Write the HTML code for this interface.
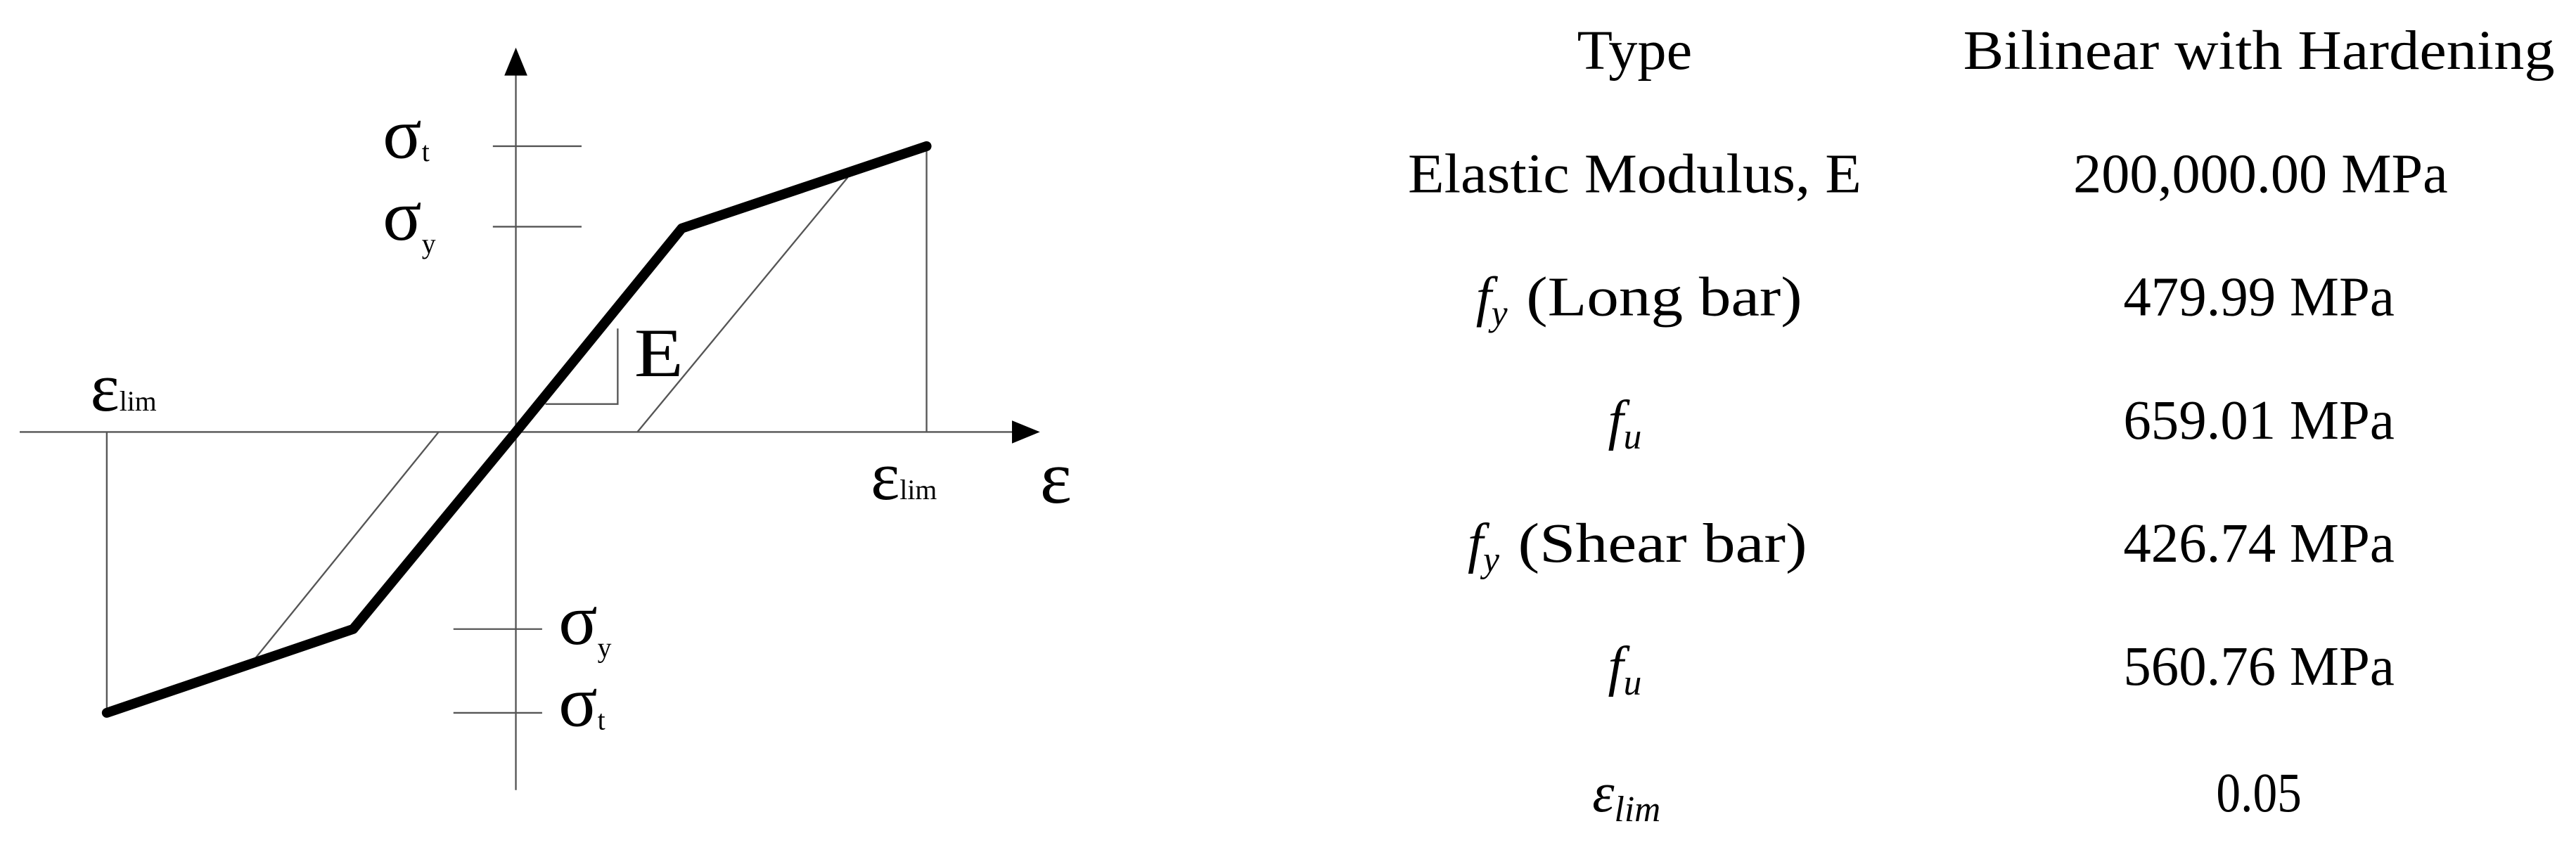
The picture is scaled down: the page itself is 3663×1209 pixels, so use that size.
<!DOCTYPE html>
<html><head><meta charset="utf-8"><style>html,body{margin:0;padding:0;background:#fff}svg{display:block}</style></head>
<body>
<svg width="3663" height="1209" viewBox="0 0 1568 517.5" xmlns="http://www.w3.org/2000/svg">
<rect width="1568" height="517.5" fill="#fff"/>
<g stroke="#555" stroke-width="1" fill="none">
<line x1="314" y1="44" x2="314" y2="481"/>
<line x1="12" y1="263" x2="618" y2="263"/>
<line x1="300" y1="89" x2="354" y2="89"/>
<line x1="300" y1="138" x2="354" y2="138"/>
<line x1="276" y1="383" x2="330" y2="383"/>
<line x1="276" y1="434" x2="330" y2="434"/>
<line x1="65" y1="263" x2="65" y2="434"/>
<line x1="564" y1="89" x2="564" y2="263"/>
<line x1="388" y1="263" x2="516" y2="108"/>
<line x1="267" y1="263" x2="152" y2="405"/>
<polyline points="376,200 376,246 332,246"/>
</g>
<polygon points="314,29 307,46 321,46" fill="#000"/>
<polygon points="633,263 616,256 616,270" fill="#000"/>
<polyline points="65,434 215,383 314,263 415,139 564,89" fill="none" stroke="#000" stroke-width="6" stroke-linejoin="round" stroke-linecap="round"/>
<g font-family="Liberation Serif, serif" fill="#000">
<text x="233" y="96" font-size="44">σ<tspan font-size="17" dy="2">t</tspan></text>
<text x="233" y="146" font-size="44">σ<tspan font-size="17" dy="8">y</tspan></text>
<text x="340" y="392" font-size="44">σ<tspan font-size="17" dy="8">y</tspan></text>
<text x="340" y="442" font-size="44">σ<tspan font-size="17" dy="2">t</tspan></text>
<text x="386" y="229" font-size="42" textLength="30" lengthAdjust="spacingAndGlyphs">E</text>
<text x="55" y="250" font-size="42">ε<tspan font-size="17">lim</tspan></text>
<text x="530" y="304" font-size="42">ε<tspan font-size="17">lim</tspan></text>
<text x="633" y="306" font-size="46">ε</text>
</g>
<g font-family="Liberation Serif, serif" font-size="34" fill="#000" text-anchor="middle">
<text x="995" y="42" textLength="70" lengthAdjust="spacingAndGlyphs">Type</text>
<text x="1375" y="42" textLength="360" lengthAdjust="spacingAndGlyphs">Bilinear with Hardening</text>
<text x="995" y="117" textLength="276" lengthAdjust="spacingAndGlyphs">Elastic Modulus, E</text>
<text x="1376" y="117" textLength="228" lengthAdjust="spacingAndGlyphs">200,000.00 MPa</text>
<text x="908" y="192" font-style="italic">f<tspan font-size="22" dy="6">y</tspan></text>
<text x="1013" y="192" textLength="168" lengthAdjust="spacingAndGlyphs">(Long bar)</text>
<text x="1375" y="192" textLength="165" lengthAdjust="spacingAndGlyphs">479.99 MPa</text>
<text x="989" y="267" font-style="italic">f<tspan font-size="22" dy="6">u</tspan></text>
<text x="1375" y="267" textLength="165" lengthAdjust="spacingAndGlyphs">659.01 MPa</text>
<text x="903" y="342" font-style="italic">f<tspan font-size="22" dy="6">y</tspan></text>
<text x="1012" y="342" textLength="176" lengthAdjust="spacingAndGlyphs">(Shear bar)</text>
<text x="1375" y="342" textLength="165" lengthAdjust="spacingAndGlyphs">426.74 MPa</text>
<text x="989" y="417" font-style="italic">f<tspan font-size="22" dy="6">u</tspan></text>
<text x="1375" y="417" textLength="165" lengthAdjust="spacingAndGlyphs">560.76 MPa</text>
<text x="990" y="494" font-style="italic">ε<tspan font-size="22" dy="6">lim</tspan></text>
<text x="1375" y="494" textLength="52" lengthAdjust="spacingAndGlyphs">0.05</text>
</g>
</svg>
</body></html>
